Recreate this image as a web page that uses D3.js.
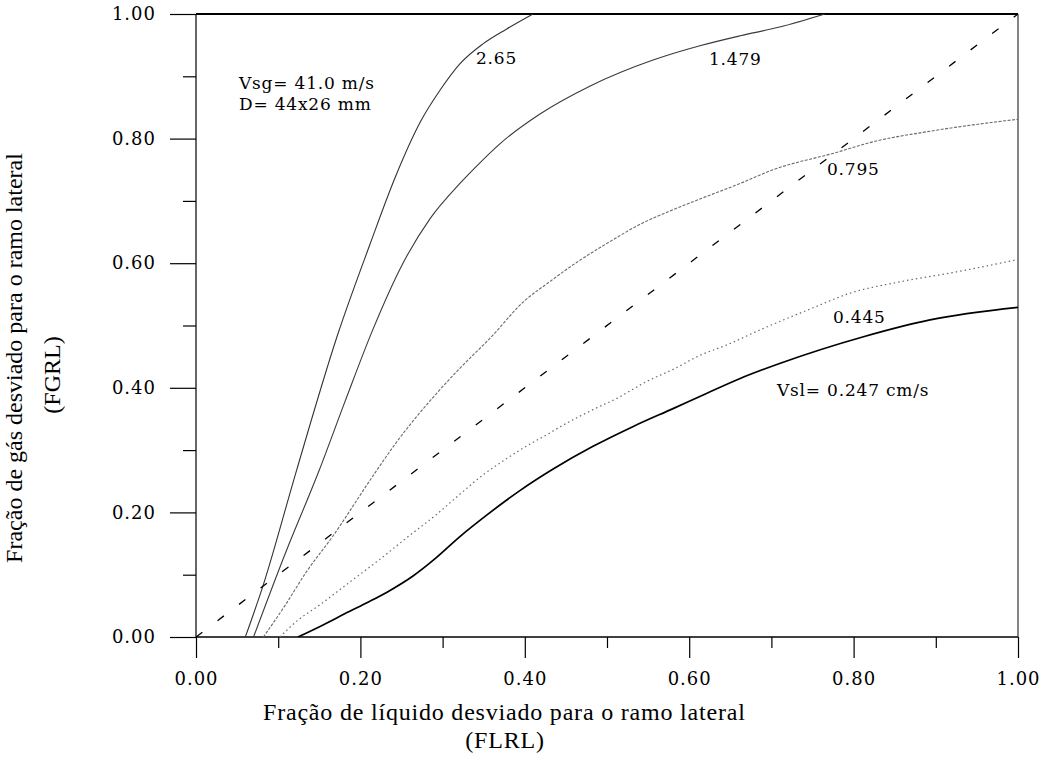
<!DOCTYPE html>
<html>
<head>
<meta charset="utf-8">
<script src="https://cdn.jsdelivr.net/npm/d3@7"></script>
<style>
  body { margin: 0; background: #fff; }
  text { fill: #000; }
</style>
</head>
<body>
<figure id="chart" style="margin:0"></figure>
<script>
// tick values
const majorTicks = [0, 0.2, 0.4, 0.6, 0.8, 1.0];
const minorTicks = [0.1, 0.3, 0.5, 0.7, 0.9];

// Vsl = 2.65
const x265 = [0.060, 0.081, 0.122, 0.172, 0.211, 0.243, 0.273, 0.297, 0.321, 0.349, 0.378, 0.41];
const y265 = [0.000, 0.080, 0.266, 0.484, 0.628, 0.740, 0.827, 0.878, 0.920, 0.952, 0.976, 1.0];

// Vsl = 1.479
const x1479 = [0.070, 0.108, 0.150, 0.181, 0.215, 0.251, 0.285, 0.321, 0.346, 0.370, 0.418, 0.479, 0.556, 0.613, 0.662, 0.710, 0.765];
const y1479 = [0.000, 0.132, 0.268, 0.377, 0.493, 0.598, 0.672, 0.728, 0.762, 0.792, 0.839, 0.884, 0.926, 0.949, 0.965, 0.979, 1.0];

// Vsl = 0.795
const x795 = [0.082, 0.109, 0.134, 0.166, 0.215, 0.243, 0.292, 0.320, 0.358, 0.400, 0.430, 0.455, 0.504, 0.544, 0.577, 0.613, 0.662, 0.702, 0.777, 0.824, 0.889, 0.945, 1.0];
const y795 = [0.000, 0.052, 0.104, 0.161, 0.258, 0.311, 0.390, 0.430, 0.480, 0.540, 0.570, 0.594, 0.635, 0.665, 0.684, 0.703, 0.728, 0.750, 0.777, 0.795, 0.811, 0.822, 0.831];

// Vsl = 0.445
const x445 = [0.102, 0.124, 0.150, 0.182, 0.199, 0.223, 0.255, 0.292, 0.320, 0.350, 0.374, 0.394, 0.423, 0.459, 0.483, 0.512, 0.548, 0.581, 0.613, 0.646, 0.688, 0.750, 0.796, 0.856, 0.925, 1.0];
const y445 = [0.000, 0.027, 0.051, 0.083, 0.100, 0.124, 0.158, 0.196, 0.228, 0.261, 0.283, 0.300, 0.322, 0.349, 0.365, 0.383, 0.410, 0.430, 0.452, 0.469, 0.494, 0.528, 0.552, 0.570, 0.586, 0.606];

// Vsl = 0.247 cm/s
const x247 = [0.124, 0.154, 0.182, 0.211, 0.235, 0.264, 0.292, 0.320, 0.354, 0.394, 0.435, 0.483, 0.532, 0.581, 0.621, 0.662, 0.710, 0.812, 0.893, 1.0];
const y247 = [0.000, 0.019, 0.038, 0.057, 0.074, 0.098, 0.127, 0.160, 0.196, 0.235, 0.270, 0.306, 0.338, 0.367, 0.391, 0.415, 0.439, 0.482, 0.509, 0.529];

// FGRL = FLRL reference
const xDiag = [0, 1];
const yDiag = [0, 1];

const width = 1047, height = 759;
const x = d3.scaleLinear().domain([0, 1]).range([196, 1018]);
const y = d3.scaleLinear().domain([0, 1]).range([637, 14]);

const svg = d3.select("#chart").append("svg")
  .attr("width", width)
  .attr("height", height)
  .style("display", "block")
  .style("background", "#fff");

svg.append("defs").append("clipPath").attr("id", "plot")
  .append("rect")
  .attr("x", x(0)).attr("y", y(1))
  .attr("width", x(1) - x(0)).attr("height", y(0) - y(1));

const tickFont = "'DejaVu Serif', serif";

// y axis
const yAxis = svg.append("g")
  .attr("transform", "translate(" + x(0) + ",0)")
  .call(d3.axisLeft(y).tickValues(majorTicks).tickSize(26).tickPadding(15).tickFormat(d3.format(".2f")));
yAxis.append("g")
  .call(d3.axisLeft(y).tickValues(minorTicks).tickSize(13).tickFormat(""));

// x axis
const xAxis = svg.append("g")
  .attr("transform", "translate(0," + y(0) + ")")
  .call(d3.axisBottom(x).tickValues(majorTicks).tickSize(21).tickPadding(14).tickFormat(d3.format(".2f")));
xAxis.append("g")
  .call(d3.axisBottom(x).tickValues(minorTicks).tickSize(11).tickFormat(""));

svg.selectAll(".domain").remove();
svg.selectAll(".tick line").attr("stroke", "#000").attr("stroke-width", 1.2);
svg.selectAll(".tick text")
  .style("font-family", tickFont)
  .style("font-size", "18px")
  .style("letter-spacing", "1px")
  .attr("fill", "#000");
yAxis.selectAll(".tick text").attr("x", -40);

// frame
const frame = svg.append("g").attr("stroke", "#000").attr("fill", "none");
frame.append("line").attr("x1", x(0)).attr("x2", x(0)).attr("y1", y(0)).attr("y2", y(1)).attr("stroke-width", 1.2);
frame.append("line").attr("x1", x(0)).attr("x2", x(1)).attr("y1", y(1)).attr("y2", y(1)).attr("stroke-width", 2);
frame.append("line").attr("x1", x(0)).attr("x2", x(1)).attr("y1", y(0)).attr("y2", y(0)).attr("stroke-width", 1.6);
frame.append("line").attr("x1", x(1)).attr("x2", x(1)).attr("y1", y(0)).attr("y2", y(1)).attr("stroke-width", 1.2).attr("stroke", "#333");

// curves
const line = d3.line()
  .x(d => x(d[0]))
  .y(d => y(d[1]))
  .curve(d3.curveMonotoneX);

const series = [
  { xs: x265, ys: y265, stroke: "#333", width: 1.1, dash: null },
  { xs: x1479, ys: y1479, stroke: "#3a3a3a", width: 1.1, dash: null },
  { xs: x795, ys: y795, stroke: "#6a6a6a", width: 1.1, dash: "3,1.5" },
  { xs: x445, ys: y445, stroke: "#6a6a6a", width: 1.2, dash: "1.5,3" },
  { xs: x247, ys: y247, stroke: "#000", width: 1.7, dash: null },
  { xs: xDiag, ys: yDiag, stroke: "#000", width: 1.3, dash: "8,19" }
];

const curves = svg.append("g").attr("clip-path", "url(#plot)");
series.forEach(s => {
  curves.append("path")
    .datum(s.xs.map((v, i) => [v, s.ys[i]]))
    .attr("fill", "none")
    .attr("stroke", s.stroke)
    .attr("stroke-width", s.width)
    .attr("stroke-dasharray", s.dash)
    .attr("d", line);
});

// curve labels
const notes = [
  { t: "2.65", x: 476, y: 64 },
  { t: "1.479", x: 709, y: 65 },
  { t: "0.795", x: 827, y: 175 },
  { t: "0.445", x: 833, y: 323 },
  { t: "Vsl= 0.247 cm/s", x: 777, y: 396 },
  { t: "Vsg= 41.0 m/s", x: 239, y: 89 },
  { t: "D= 44x26 mm", x: 239, y: 110 }
];
svg.append("g").selectAll("text")
  .data(notes)
  .enter()
  .append("text")
  .attr("x", d => d.x)
  .attr("y", d => d.y)
  .style("font-family", tickFont)
  .style("font-size", "17px")
  .style("letter-spacing", "0.8px")
  .text(d => d.t);

// axis titles
const titleFont = "'Liberation Serif', 'Times New Roman', serif";
svg.append("text")
  .attr("x", 263).attr("y", 720)
  .style("font-family", titleFont).style("font-size", "24px")
  .style("letter-spacing", "0.8px")
  .text("Fração de líquido desviado para o ramo lateral");
svg.append("text")
  .attr("x", 505).attr("y", 748)
  .attr("text-anchor", "middle")
  .style("font-family", titleFont).style("font-size", "24px")
  .style("letter-spacing", "0.8px")
  .text("(FLRL)");

svg.append("text")
  .attr("transform", "translate(22,358) rotate(-90)")
  .attr("text-anchor", "middle")
  .style("font-family", titleFont).style("font-size", "24px")
  .text("Fração de gás desviado para o ramo lateral");
svg.append("text")
  .attr("transform", "translate(60,375) rotate(-90)")
  .attr("text-anchor", "middle")
  .style("font-family", titleFont).style("font-size", "24px")
  .text("(FGRL)");
</script>
</body>
</html>
